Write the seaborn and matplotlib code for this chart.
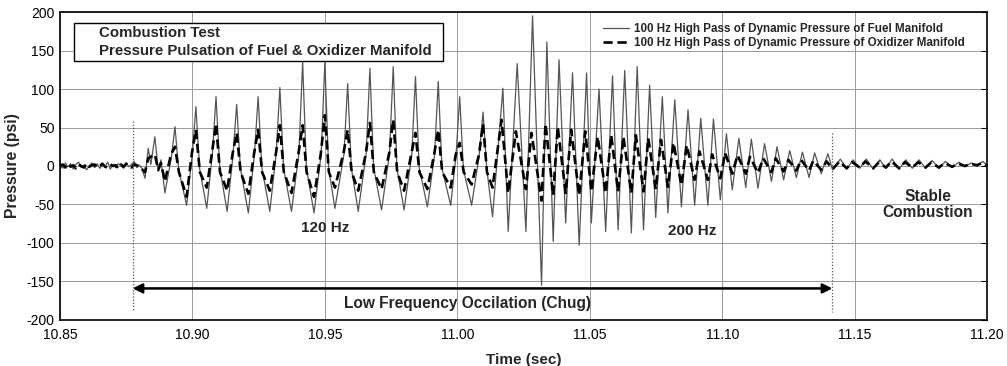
import numpy as np
import pandas as pd
import matplotlib
matplotlib.use("Agg")
import matplotlib.pyplot as plt
from matplotlib.patches import Rectangle
import seaborn as sns

# ---------------- data ----------------
noise_t = [10.850, 10.851, 10.852, 10.853, 10.854, 10.855, 10.856, 10.857, 10.858, 10.859,
           10.860, 10.861, 10.862, 10.863, 10.864, 10.865, 10.866, 10.867, 10.868, 10.869,
           10.870, 10.871, 10.872, 10.873, 10.874, 10.875, 10.876, 10.877, 10.878, 10.879, 10.880]
fuel_noise = [1, -3, 4, -1, 3, -4, 2, 5, -2, 1, -5, 0, 4, -2, 3, -3, 1, -1, 5, -4,
              2, -2, 3, 0, -3, 4, -1, 2, 6, -2, 1]
ox_noise = [0, 2, -2, 3, -1, 1, -3, 2, 0, -2, 3, -1, 1, 2, -2, 0, 3, -1, -2, 2,
            0, 1, -3, 2, -1, 3, 0, -2, 2, 1, -1]

fuel_t = [10.8809, 10.8821, 10.8833, 10.8843, 10.8858, 10.8871, 10.8881, 10.8896,
          10.8920, 10.8934, 10.8948, 10.8978,
          10.8999, 10.9013, 10.9027, 10.9054,
          10.9075, 10.9089, 10.9103, 10.9131,
          10.9153, 10.9167, 10.9181, 10.9211,
          10.9234, 10.9248, 10.9262, 10.9292,
          10.9316, 10.9330, 10.9344, 10.9374,
          10.9402, 10.9416, 10.9430, 10.9459,
          10.9486, 10.9500, 10.9514, 10.9538,
          10.9572, 10.9586, 10.9600, 10.9626,
          10.9656, 10.9670, 10.9684, 10.9714,
          10.9744, 10.9758, 10.9772, 10.9799,
          10.9828, 10.9842, 10.9856, 10.9887,
          10.9914, 10.9928, 10.9942, 10.9975,
          10.9995, 11.0009, 11.0023, 11.0054,
          11.0083, 11.0097, 11.0111, 11.0133,
          11.0172, 11.0192, 11.0226, 11.0259, 11.0284, 11.0318, 11.0338, 11.0362,
          11.0384, 11.0409, 11.0435, 11.0460, 11.0488, 11.0506, 11.0535, 11.0560,
          11.0586, 11.0607, 11.0632, 11.0657, 11.0679, 11.0703, 11.0726, 11.0749,
          11.0774, 11.0795, 11.0821, 11.0846, 11.0871, 11.0896, 11.0919, 11.0946,
          11.0967, 11.0993, 11.1016, 11.1038, 11.1063, 11.1089, 11.1110, 11.1135,
          11.1160, 11.1186, 11.1207, 11.1232, 11.1255, 11.1280, 11.1303, 11.1328,
          11.1349, 11.1374, 11.1399, 11.1417,
          11.1446, 11.1470, 11.1494, 11.1519, 11.1544, 11.1570, 11.1595, 11.1618,
          11.1642, 11.1668, 11.1693, 11.1718, 11.1743, 11.1768, 11.1793, 11.1818,
          11.1843, 11.1868, 11.1894, 11.1917, 11.1940, 11.1962, 11.1984, 11.2000]
fuel_v = [-3, -16, 23, 2, 38, -7, 8, -35,
          10, 51, -5, -51,
          14, 77, -3, -55,
          15, 90, -2, -59,
          14, 80, -3, -61,
          15, 90, -2, -59,
          16, 102, -3, -59,
          17, 135, -2, -61,
          16, 135, -3, -55,
          15, 107, -3, -59,
          16, 127, -2, -57,
          16, 129, -3, -57,
          15, 116, -2, -53,
          14, 110, -3, -51,
          13, 90, -4, -51,
          15, 70, -3, -66,
          101, -85, 133, -85, 195, -155, 161, -98,
          138, -74, 121, -103, 121, -74, 100, -85,
          117, -83, 124, -87, 129, -83, 105, -67,
          90, -61, 86, -53, 73, -51, 62, -51,
          61, -44, 42, -31, 36, -28, 35, -29,
          29, -20, 25, -18, 20, -15, 18, -15,
          17, -10, 16, -5,
          9, -4, 8, -3, 9, -4, 8, -3,
          9, -4, 8, -3, 8, -3, 7, -3,
          6, -2, 5, -1, 4, 0, 6, 1]

ox_t = [10.8821, 10.8833, 10.8858, 10.8871, 10.8881, 10.8896,
        10.8919, 10.8934, 10.8949, 10.8978, 10.8998, 10.9013, 10.9028, 10.9054,
        10.9074, 10.9089, 10.9104, 10.9131, 10.9152, 10.9167, 10.9182, 10.9211,
        10.9233, 10.9248, 10.9263, 10.9292, 10.9315, 10.9330, 10.9345, 10.9374,
        10.9401, 10.9416, 10.9431, 10.9459, 10.9485, 10.9500, 10.9515, 10.9538,
        10.9571, 10.9586, 10.9601, 10.9626, 10.9655, 10.9670, 10.9685, 10.9714,
        10.9743, 10.9758, 10.9773, 10.9799, 10.9827, 10.9842, 10.9857, 10.9887,
        10.9913, 10.9928, 10.9943, 10.9975, 10.9994, 11.0009, 11.0024, 11.0054,
        11.0082, 11.0097, 11.0112, 11.0133,
        11.0167, 11.0192, 11.0221, 11.0259, 11.0280, 11.0318, 11.0333, 11.0362,
        11.0379, 11.0409, 11.0430, 11.0460, 11.0483, 11.0506, 11.0530, 11.0560,
        11.0581, 11.0607, 11.0627, 11.0657, 11.0674, 11.0703, 11.0721, 11.0749,
        11.0769, 11.0795, 11.0816, 11.0846, 11.0866, 11.0896, 11.0914, 11.0946,
        11.0962, 11.0993, 11.1011, 11.1038, 11.1058, 11.1089, 11.1105, 11.1135,
        11.1155, 11.1186, 11.1202, 11.1232, 11.1250, 11.1280, 11.1298, 11.1328,
        11.1344, 11.1374, 11.1394, 11.1417,
        11.1443, 11.1470, 11.1491, 11.1519, 11.1541, 11.1570, 11.1592, 11.1618,
        11.1639, 11.1668, 11.1690, 11.1718, 11.1740, 11.1768, 11.1790, 11.1818,
        11.1840, 11.1868, 11.1891, 11.1917, 11.1937, 11.1962, 11.1981, 11.2000]
ox_v = [-8, 10, 15, -5, 4, -20,
        15, 25, -8, -40, 17, 47, -8, -28,
        18, 55, -8, -32, 17, 43, -8, -36,
        17, 47, -8, -32, 16, 53, -8, -35,
        18, 53, -8, -40, 17, 66, -8, -28,
        18, 47, -8, -32, 17, 56, -8, -30,
        17, 60, -8, -32, 17, 43, -8, -30,
        16, 47, -8, -28, 15, 30, -8, -24,
        15, 55, -8, -28,
        60, -35, 45, -30, 43, -45, 55, -38,
        51, -35, 47, -38, 45, -33, 38, -35,
        40, -33, 38, -35, 40, -33, 36, -30,
        34, -27, 30, -25, 27, -18, 19, -18,
        15, -16, 17, -10, 14, -10, 12, -9,
        10, -8, 10, -7, 8, -6, 8, -6,
        7, -5, 6, -4,
        6, -3, 5, -2, 6, -3, 5, -2,
        6, -3, 5, -2, 5, -2, 5, -2,
        4, -1, 3, 0, 3, 1, 4, 0]

x_ticks = [10.85, 10.90, 10.95, 11.00, 11.05, 11.10, 11.15, 11.20]
y_ticks = [-200, -150, -100, -50, 0, 50, 100, 150, 200]
chug_start, chug_end = 10.8774, 11.1416

fuel_label = "100 Hz High Pass of Dynamic Pressure of Fuel Manifold"
ox_label = "100 Hz High Pass of Dynamic Pressure of Oxidizer Manifold"

# ---------------- figure ----------------
sns.set_style("white")
plt.rcParams['font.family'] = ['Liberation Sans', 'DejaVu Sans']

fig = plt.figure(figsize=(10.07, 3.66), dpi=100)
ax = fig.add_axes([0.0596, 0.1257, 0.9206, 0.8415])

fuel_df = pd.DataFrame({"t": noise_t + fuel_t, "p": fuel_noise + fuel_v})
ox_df = pd.DataFrame({"t": noise_t + ox_t, "p": ox_noise + ox_v})

sns.lineplot(data=fuel_df, x="t", y="p", sort=False, estimator=None, ax=ax,
             color="#555555", linewidth=0.9, label=fuel_label, zorder=3)
sns.lineplot(data=ox_df, x="t", y="p", sort=False, estimator=None, ax=ax,
             color="black", linewidth=1.9, label=ox_label, zorder=4)
ax.lines[-1].set_dashes([3.5, 1.8])

ax.set_xlim(10.85, 11.20)
ax.set_ylim(-200, 200)
ax.set_xticks(x_ticks)
ax.set_xticklabels([f"{v:.2f}" for v in x_ticks], fontsize=10)
ax.set_yticks(y_ticks)
ax.set_yticklabels([str(v) for v in y_ticks], fontsize=10)
ax.tick_params(axis='both', direction='in', length=4, width=0.8, right=True, top=False,
               colors='black')
ax.tick_params(axis='x', pad=6)
ax.tick_params(axis='y', pad=4)
ax.grid(True, color='#9a9a9a', linewidth=0.7)
for s in ax.spines.values():
    s.set_color('black')
    s.set_linewidth(1.2)

ax.set_xlabel("Time (sec)", fontsize=11, fontweight='bold', labelpad=8)
ax.set_ylabel("Pressure (psi)", fontsize=11.3, fontweight='bold', labelpad=5)

# dotted boundaries
ax.plot([chug_start, chug_start], [59, -188], color='#555555', lw=0.9, ls=(0, (1, 1.5)), zorder=5)
ax.plot([chug_end, chug_end], [43, -189], color='#555555', lw=0.9, ls=(0, (1, 1.5)), zorder=5)

# chug arrow
ax.annotate('', xy=(chug_start, -159), xytext=(chug_end, -159),
            arrowprops=dict(arrowstyle='<|-|>', lw=1.8, color='black',
                            mutation_scale=14, shrinkA=0, shrinkB=0), zorder=5)
ax.text(11.004, -179, "Low Frequency Occilation (Chug)", ha='center', va='center',
        fontsize=11.2, fontweight='bold')

ax.text(10.95, -80, "120 Hz", ha='center', va='center', fontsize=11, fontweight='bold')
ax.text(11.0888, -84, "200 Hz", ha='center', va='center', fontsize=11, fontweight='bold')
ax.text(11.1776, -50, "Stable\nCombustion", ha='center', va='center', fontsize=11.2,
        fontweight='bold', linespacing=1.15)

# title box
ax.add_patch(Rectangle((0.0151, 0.841), 0.3981, 0.123, transform=ax.transAxes,
                       facecolor='white', edgecolor='black', lw=1.0, zorder=6))
ax.text(0.0421, 0.932, "Combustion Test", transform=ax.transAxes, ha='left', va='center',
        fontsize=10.8, fontweight='bold', zorder=7)
ax.text(0.0421, 0.873, "Pressure Pulsation of Fuel & Oxidizer Manifold", transform=ax.transAxes,
        ha='left', va='center', fontsize=10.8, fontweight='bold', zorder=7)

leg = ax.legend(loc='upper right', bbox_to_anchor=(0.976, 0.965), frameon=False,
                prop={'weight': 'bold', 'size': 8.4}, handlelength=2.3,
                handletextpad=0.4, labelspacing=0.2, borderpad=0, borderaxespad=0)

fig.savefig("out.png", dpi=100)
